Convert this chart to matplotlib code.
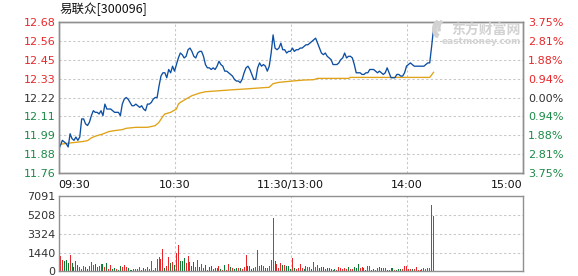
import numpy as np
import matplotlib
matplotlib.use("Agg")
import matplotlib.pyplot as plt
from matplotlib.patches import Arc

plt.rcParams['font.family'] = ['DejaVu Sans', 'Noto Sans CJK SC']

title = "易联众[300096]"
prev_close = 12.22
max_pct = 3.75

# last price, one value per minute from 09:30
price = [
    11.90, 11.93, 11.96, 11.95, 11.94, 11.92, 12.00, 11.97, 11.96, 11.98,
    11.96, 11.98, 12.09, 12.09, 12.06, 12.05, 12.07, 12.11, 12.14, 12.13,
    12.13, 12.12, 12.14, 12.11, 12.18, 12.15, 12.15, 12.15, 12.14, 12.13,
    12.13, 12.13, 12.11, 12.18, 12.21, 12.22, 12.21, 12.19, 12.17, 12.17,
    12.18, 12.17, 12.16, 12.17, 12.15, 12.14, 12.18, 12.18, 12.19, 12.21,
    12.22, 12.22, 12.29, 12.35, 12.37, 12.37, 12.34, 12.39, 12.37, 12.41,
    12.38, 12.42, 12.46, 12.49, 12.48, 12.46, 12.47, 12.51, 12.52, 12.50,
    12.47, 12.46, 12.49, 12.50, 12.50, 12.47, 12.42, 12.40, 12.40, 12.39,
    12.40, 12.39, 12.41, 12.44, 12.42, 12.41, 12.38, 12.38, 12.37, 12.36,
    12.35, 12.33, 12.32, 12.32, 12.31, 12.33, 12.37, 12.40, 12.41, 12.39,
    12.36, 12.33, 12.33, 12.40, 12.43, 12.41, 12.42, 12.41, 12.38, 12.41,
    12.49, 12.60, 12.52, 12.51, 12.52, 12.55, 12.51, 12.51, 12.49, 12.50,
    12.50, 12.52, 12.50, 12.51, 12.51, 12.52, 12.52, 12.53, 12.54, 12.54,
    12.55, 12.56, 12.57, 12.58, 12.55, 12.52, 12.49, 12.48, 12.49, 12.47,
    12.46, 12.45, 12.42, 12.42, 12.42, 12.43, 12.45, 12.46, 12.49, 12.46,
    12.47, 12.47, 12.46, 12.42, 12.37, 12.37, 12.37, 12.36, 12.36, 12.37,
    12.37, 12.39, 12.39, 12.39, 12.38, 12.37, 12.38, 12.37, 12.36, 12.37,
    12.40, 12.37, 12.34, 12.34, 12.34, 12.36, 12.36, 12.35, 12.35, 12.37,
    12.41, 12.42, 12.43, 12.42, 12.41, 12.41, 12.41, 12.41, 12.41, 12.41,
    12.42, 12.43, 12.43, 12.53, 12.64,
]

# average price line, read at its turning points
avg_min = [0, 2, 6, 9, 12, 15, 17, 19, 23, 26, 29, 33, 35, 40, 46, 50, 52, 54,
           55, 58, 61, 62, 63, 66, 69, 73, 76, 83, 90, 97, 104, 109, 111, 114,
           121, 127, 132, 134, 150, 151, 192, 194]
avg_price = [11.93, 11.938, 11.944, 11.948, 11.952, 11.958, 11.975, 11.985,
             11.999, 12.013, 12.019, 12.025, 12.033, 12.039, 12.039, 12.049,
             12.07, 12.106, 12.12, 12.13, 12.15, 12.18, 12.19, 12.211, 12.231,
             12.247, 12.255, 12.261, 12.267, 12.272, 12.278, 12.282, 12.304,
             12.312, 12.32, 12.326, 12.328, 12.336, 12.336, 12.342, 12.342,
             12.373]

# volume per minute from 09:31, r = up minute, g = down minute
vol = [
    1450, 1040, 945, 1070, 790, 1545, 790, 410, 980, 600,
    410, 220, 500, 410, 220, 500, 880, 630, 690, 410,
    500, 690, 690, 410, 790, 220, 600, 220, 315, 220,
    125, 500, 410, 600, 410, 315, 125, 125, 220, 220,
    220, 410, 125, 315, 220, 410, 220, 980, 125, 315,
    1170, 1355, 1170, 2110, 315, 500, 1355, 790, 880, 600,
    1730, 2490, 980, 980, 1260, 790, 1450, 880, 500, 880,
    410, 1070, 410, 690, 315, 600, 125, 410, 500, 220,
    315, 315, 500, 220, 125, 600, 125, 690, 410, 315,
    220, 315, 315, 315, 220, 410, 1545, 500, 500, 220,
    315, 410, 2015, 500, 600, 500, 315, 315, 500, 1070,
    5040, 980, 690, 315, 790, 600, 600, 500, 500, 220,
    1260, 315, 220, 315, 690, 315, 220, 500, 410, 410,
    220, 880, 410, 600, 315, 410, 410, 220, 315, 315,
    220, 125, 220, 125, 410, 315, 220, 315, 220, 410,
    220, 220, 410, 315, 690, 315, 410, 315, 125, 500,
    500, 125, 220, 125, 315, 410, 315, 315, 315, 125,
    125, 315, 315, 125, 125, 220, 220, 220, 500, 500,
    220, 220, 220, 220, 410, 125, 125, 220, 315, 220,
    315, 315, 6240, 5230,
]
vol_dir = ("rrgggrggrg" "rrrggrrrgr" "rrgrgrrggr" "ggrrrgggrr" "rrrgrrrrrr"
           "rrrrgrrgrg" "rrgggrrrgg" "rrgrrgrggr" "grrgrgrrgr" "ggrgrrrggg"
           "grrrgrgrrr" "rgrrrgrggg" "rgrrrrgrrr" "grrrgggggg" "grgrrrrrrg"
           "rrgggrrrgr" "rggrrggrrg" "rggrgggrrr" "rrgrrrrrrr" "rrrr")
vol_max = 7091
vol_labels = ["0", "1440", "3324", "5208", "7091"]

time_ticks = [0, 60, 120, 180, 240]
time_labels = ["09:30", "10:30", "11:30/13:00", "14:00", "15:00"]

red = '#e8262a'
green = '#1b8a46'
dark = '#333333'
wm = '#d2d2d2'
grid_kw = dict(color='#c8c8c8', linestyle=(0, (2.2, 2.2)), linewidth=0.75)

fig = plt.figure(figsize=(5.78, 2.76), dpi=100)
W, H = 578.0, 276.0
ax = fig.add_axes([58.5 / W, 1 - 173 / H, 464 / W, 151 / H])
axv = fig.add_axes([58.5 / W, 1 - 271.3 / H, 464 / W, 75 / H])

pcts = np.linspace(-max_pct, max_pct, 9)
pticks = prev_close * (1 + pcts / 100)

ax.plot(np.arange(len(price)), price, color='#0c4fa3', lw=0.95, zorder=3)
ax.plot(avg_min, avg_price, color='#e0a216', lw=0.95, zorder=2)
ax.set_xlim(0, 240)
ax.set_ylim(pticks[0], pticks[-1])
ax.set_xticks(time_ticks)
ax.set_xticklabels(time_labels)
ax.set_yticks(pticks)
ax.set_yticklabels(["%.2f" % p for p in pticks])
ax.tick_params(length=0, labelsize=8, pad=2)
ax.tick_params(axis='x', pad=5, colors='#111111')
xl = ax.get_xticklabels()
xl[0].set_ha('left')
xl[-1].set_ha('right')
for lab, p in zip(ax.get_yticklabels(), pcts):
    lab.set_color(red if p > 0 else (green if p < 0 else dark))
ax.grid(True, **grid_kw)

ax2 = ax.twinx()
ax2.set_ylim(ax.get_ylim())
ax2.set_yticks(pticks)
ax2.set_yticklabels(["%.2f%%" % abs(p) for p in pcts])
ax2.tick_params(length=0, labelsize=8, pad=4)
for lab, p in zip(ax2.get_yticklabels(), pcts):
    lab.set_color(red if p > 0 else (green if p < 0 else dark))

xv = np.arange(1, len(vol) + 1)
cols = [red if c == 'r' else '#0b7a33' for c in vol_dir]
axv.bar(xv, vol, width=0.55, color=cols, zorder=3, linewidth=0)
axv.set_xlim(0, 240)
axv.set_ylim(0, vol_max)
axv.set_xticks(time_ticks)
axv.set_xticklabels([])
axv.set_yticks(np.linspace(0, vol_max, 5))
axv.set_yticklabels(vol_labels)
axv.tick_params(length=0, labelsize=8, pad=2, colors=dark)
axv.grid(True, **grid_kw)

for a in (ax, ax2, axv):
    for s in a.spines.values():
        s.set_color('#909090')
        s.set_linewidth(1.0)
        s.set_zorder(5)

fig.text(60 / W, 1 - 9.5 / H, title, ha='left', va='center', fontsize=9,
         color='#111111', family=['Noto Sans CJK SC', 'DejaVu Sans'])

# watermark: swoosh logo + site name
logo = fig.add_axes([429 / W, 1 - 38 / H, 18 / W, 18 / H])
logo.set_xlim(-1, 1)
logo.set_ylim(-1, 1)
logo.axis('off')
logo.add_patch(Arc((0.35, 0), 1.5, 1.8, theta1=110, theta2=250, color=wm, lw=3.5))
logo.add_patch(Arc((0.6, 0.1), 1.0, 1.6, theta1=100, theta2=220, color=wm, lw=2.5))
fig.text(521 / W, 1 - 30 / H, "东方财富网", ha='right', va='center', fontsize=10,
         weight='bold', color=wm, family=['Noto Sans CJK SC', 'DejaVu Sans'])
fig.text(521 / W, 1 - 41.5 / H, "eastmoney.com", ha='right', va='center',
         fontsize=6.5, weight='bold', color=wm)

fig.savefig("out.png", dpi=100)
